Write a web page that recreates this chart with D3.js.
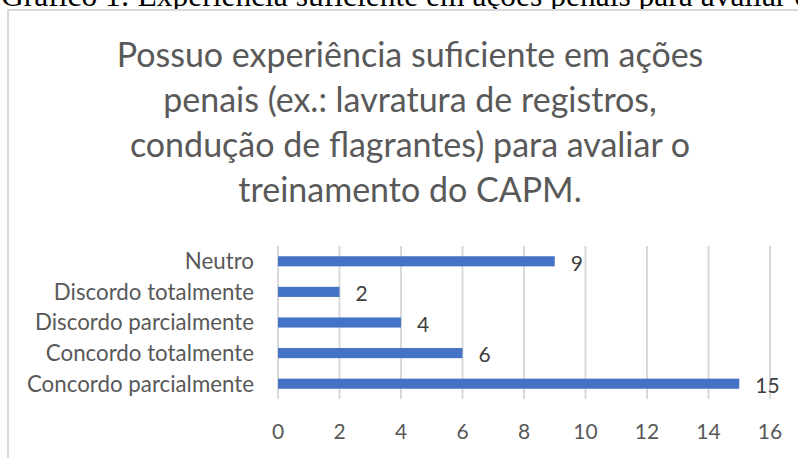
<!DOCTYPE html>
<html>
<head>
<meta charset="utf-8">
<script src="https://cdn.jsdelivr.net/npm/d3@7"></script>
<style>
  html, body { margin: 0; padding: 0; background: #fff; overflow: hidden; }
  svg { display: block; }
</style>
</head>
<body>
<div id="chart"></div>
<script>
// data, top to bottom as in the picture
const categories = ['Neutro', 'Discordo totalmente', 'Discordo parcialmente', 'Concordo totalmente', 'Concordo parcialmente'];
const values = [9, 2, 4, 6, 15];
const xTicks = [0, 2, 4, 6, 8, 10, 12, 14, 16];
const titleLines = ['Possuo experiência suficiente em ações', 'penais (ex.: lavratura de registros,', 'condução de flagrantes) para avaliar o', 'treinamento do CAPM.'];
const caption = 'Gráfico 1: Experiência suficiente em ações penais para avaliar o treinamento do CAPM';

const width = 798, height = 458;
const margins = { left: 278, right: 28, top: 246, bottom: 59 };
const gray = '#595959';
const font = 'Lato, "Open Sans", sans-serif';

const svg = d3.select('#chart').append('svg')
	.attr('width', width)
	.attr('height', height);

// caption of the document, cut off at the top
svg.append('text')
	.attr('x', 1)
	.attr('y', 6)
	.attr('font-family', '"Liberation Serif", "Times New Roman", serif')
	.attr('font-size', 31.5)
	.attr('fill', '#000')
	.text(caption);

// chart frame
svg.append('rect')
	.attr('x', 8)
	.attr('y', 10)
	.attr('width', 820)
	.attr('height', 470)
	.attr('fill', '#fff')
	.attr('stroke', '#d9d9d9')
	.attr('stroke-width', 2);

// title
svg.append('g').selectAll('text')
	.data(titleLines)
	.join('text')
	.attr('x', 410)
	.attr('y', (d, i) => 67 + i * 45)
	.attr('text-anchor', 'middle')
	.attr('font-family', font)
	.attr('font-size', 34)
	.attr('fill', gray)
	.text(d => d);

const x = d3.scaleLinear()
	.domain([0, 16])
	.range([margins.left, width - margins.right]);

const y = d3.scaleBand()
	.domain(categories)
	.range([margins.top, height - margins.bottom])
	.paddingInner(0.67)
	.paddingOuter(0.335);

// vertical gridlines
svg.append('g').selectAll('line')
	.data(xTicks)
	.join('line')
	.attr('x1', d => x(d))
	.attr('x2', d => x(d))
	.attr('y1', margins.top)
	.attr('y2', height - margins.bottom)
	.attr('stroke', '#d9d9d9')
	.attr('stroke-width', 2);

// x tick labels
svg.append('g').selectAll('text')
	.data(xTicks)
	.join('text')
	.attr('x', d => x(d))
	.attr('y', 439)
	.attr('text-anchor', 'middle')
	.attr('font-family', font)
	.attr('font-size', 21)
	.attr('fill', gray)
	.text(d => d);

// category labels
svg.append('g').selectAll('text')
	.data(categories)
	.join('text')
	.attr('x', margins.left - 24)
	.attr('y', d => y(d) + y.bandwidth() / 2)
	.attr('dy', '0.35em')
	.attr('text-anchor', 'end')
	.attr('font-family', font)
	.attr('font-size', 22.3)
	.attr('fill', gray)
	.text(d => d);

// bars
svg.append('g').selectAll('rect')
	.data(values)
	.join('rect')
	.attr('x', x(0))
	.attr('y', (d, i) => y(categories[i]))
	.attr('width', d => x(d) - x(0))
	.attr('height', y.bandwidth())
	.attr('fill', '#4472c4');

// value labels
svg.append('g').selectAll('text')
	.data(values)
	.join('text')
	.attr('x', d => x(d) + 16)
	.attr('y', (d, i) => y(categories[i]) + y.bandwidth() / 2 + 2)
	.attr('dy', '0.35em')
	.attr('font-family', font)
	.attr('font-size', 21)
	.attr('fill', '#404040')
	.text(d => d);
</script>
</body>
</html>
